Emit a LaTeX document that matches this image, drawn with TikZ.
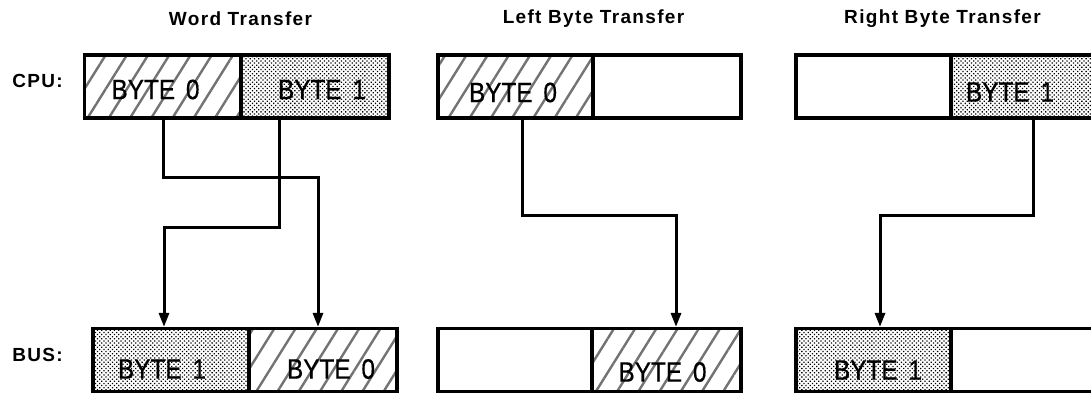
\documentclass[tikz,border=0pt]{standalone}
\usepackage{fontspec}
\setmainfont{Liberation Sans}
\newfontfamily\ttlfont[LetterSpace=7]{Liberation Sans}
\newfontfamily\bytefont[FakeStretch=0.87,FakeBold=0.6,WordSpace=1.6]{Liberation Sans}
\usetikzlibrary{arrows.meta,patterns.meta}
\tikzset{
  half/.style={draw=black, line width=3.2pt, minimum height=63pt, inner sep=0pt},
  hatch/.style={pattern={Lines[angle=58,distance=18pt,line width=2.4pt]}, pattern color=black!55},
  dots/.style={pattern={Dots[distance=3pt,radius=0.9pt,angle=45]}, pattern color=black},
  bytetxt/.style={inner sep=0pt, font=\bytefont\fontsize{28}{28}\selectfont},
  ttl/.style={inner sep=0pt, font=\ttlfont\bfseries\fontsize{19}{19}\selectfont},
  arr/.style={line width=3pt, -{Triangle[length=14pt,width=10pt]}},
}
\begin{document}
\begin{tikzpicture}[x=1pt,y=-1pt]
\useasboundingbox (0,0) rectangle (1091,394);
% titles and row labels
\node[ttl] (t1) at (240.5,18.5) {Word Transfer};
\node[ttl] (t2) at (593.5,18.5) {Left Byte Transfer};
\node[ttl] (t3) at (942.5,18.5) {Right Byte Transfer};
\node[ttl, anchor=east] (cpu) at (63,80.7) {CPU:};
\node[ttl, anchor=east] (bus) at (63,355) {BUS:};
% Word transfer
\node[half, hatch, minimum width=156pt] (wc0) at (162.5,86.5) {};
\node[half, dots,  minimum width=148pt] (wc1) at (315,86.5) {};
\node[half, dots,  minimum width=156pt] (wb1) at (171,360) {};
\node[half, hatch, minimum width=148pt] (wb0) at (323,360) {};
\node[bytetxt] (wc0t) at ([xshift=-7pt,yshift=-3pt]wc0.center) {BYTE 0};
\node[bytetxt] (wc1t) at ([xshift=7pt,yshift=-3pt]wc1.center) {BYTE 1};
\node[bytetxt] (wb1t) at ([xshift=-9pt,yshift=-9pt]wb1.center) {BYTE 1};
\node[bytetxt] (wb0t) at ([xshift=8pt,yshift=-9pt]wb0.center) {BYTE 0};
% Left byte transfer
\node[half, hatch, minimum width=155pt] (lc0) at (515.5,86.5) {};
\node[half, minimum width=148pt] (lc1) at (667,86.5) {};
\node[half, minimum width=154pt] (lbe) at (515,360) {};
\node[half, hatch, minimum width=149pt] (lb0) at (666.5,360) {};
\node[bytetxt] (lc0t) at ([xshift=-2.5pt,yshift=-6pt]lc0.center) {BYTE 0};
\node[bytetxt] (lb0t) at ([xshift=-4pt,yshift=-12pt]lb0.center) {BYTE 0};
% Right byte transfer
\node[half, minimum width=155pt] (rce) at (873.5,86.5) {};
\node[half, dots, minimum width=148pt] (rc1) at (1025,86.5) {};
\node[half, dots, minimum width=155pt] (rb1) at (873.5,360) {};
\node[half, minimum width=148pt] (rbe) at (1025,360) {};
\node[bytetxt] (rc1t) at ([xshift=-15pt,yshift=-5.5pt]rc1.center) {BYTE 1};
\node[bytetxt] (rb1t) at ([xshift=4.5pt,yshift=-10pt]rb1.center) {BYTE 1};
% connectors
\draw[arr] ([xshift=0.5pt]wc0.south) |- (318,177) -- ([xshift=-5pt]wb0.north);
\draw[arr] ([xshift=-36pt]wc1.south) |- (164,227) -- ([xshift=-7pt]wb1.north);
\draw[arr] ([xshift=6.5pt]lc0.south) |- (676,215) -- ([xshift=9.5pt]lb0.north);
\draw[arr] ([xshift=8pt]rc1.south) |- (880,215) -- ([xshift=6.5pt]rb1.north);
\end{tikzpicture}
\end{document}
